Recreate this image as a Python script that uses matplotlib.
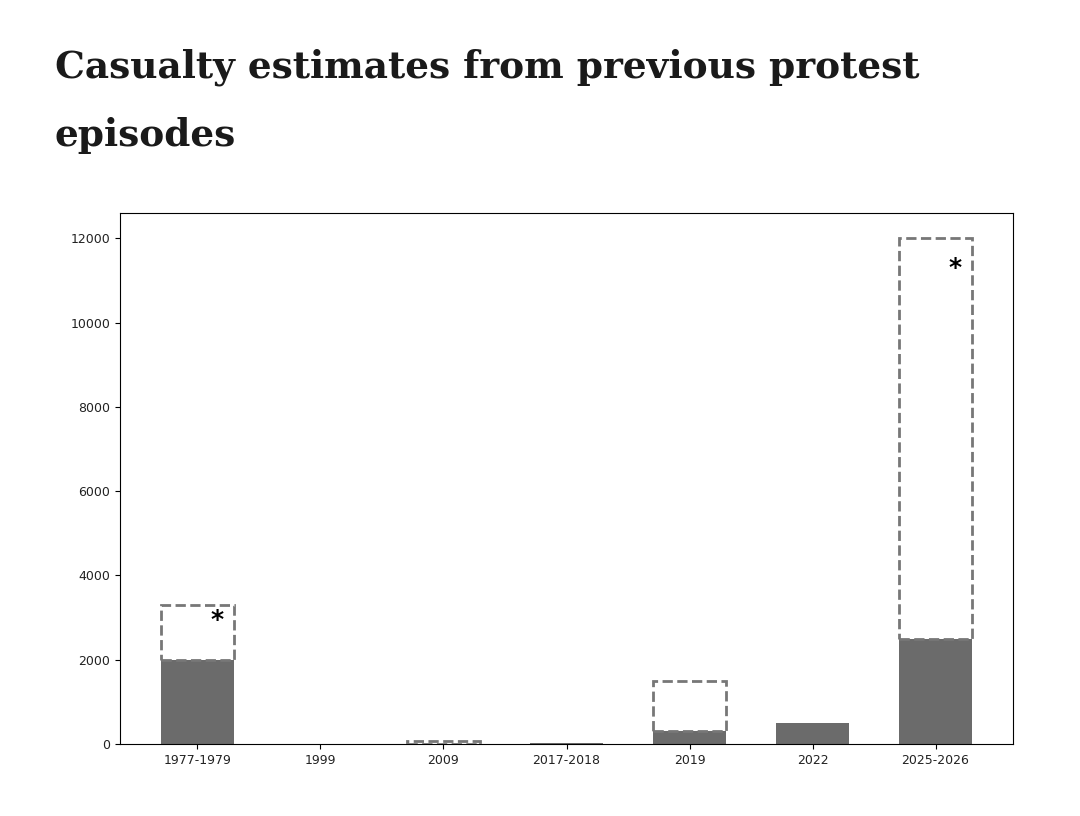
import matplotlib
matplotlib.use('Agg')
import matplotlib.pyplot as plt
import numpy as np

# Casualty estimates per protest episode
episodes = ['1977-1979', '1999', '2009', '2017-2018', '2019', '2022', '2025-2026']
low_est = [2000, 0, 10, 25, 300, 500, 2500]
high_est = [3300, 0, 72, 25, 1500, 500, 12000]
# episodes whose upper figure is disputed
starred = ['1977-1979', '2025-2026']
star_y = [2950, 11300]

fig = plt.figure(figsize=(10.8, 8.16), dpi=100)
ax = fig.add_axes([120 / 1080, 1 - 744 / 816, 893 / 1080, 531 / 816])

x = np.arange(len(episodes))
low = np.array(low_est)
high = np.array(high_est)

ax.bar(x, low, width=0.6, color='#6b6b6b', zorder=2)
# dashed outline only where there is a range
rng = high > low
ax.bar(x[rng], (high - low)[rng], bottom=low[rng], width=0.6, fill=False,
       edgecolor='#777777', linestyle='--', linewidth=2, zorder=3)

for name, yv in zip(starred, star_y):
    i = episodes.index(name)
    ax.text(i + 0.16, yv, '*', ha='center', va='center', fontsize=18,
            fontweight='bold')

ax.set_xticks(x)
ax.set_xticklabels(episodes, fontsize=9, color='#222222')
ax.tick_params(axis='y', labelsize=9, labelcolor='#222222')

fig.text(55 / 1080, 1 - 78 / 816, 'Casualty estimates from previous protest',
         fontsize=27, fontweight='bold', family='DejaVu Serif', color='#1a1a1a')
fig.text(55 / 1080, 1 - 146 / 816, 'episodes',
         fontsize=27, fontweight='bold', family='DejaVu Serif', color='#1a1a1a')

fig.savefig('out.png', dpi=100)
